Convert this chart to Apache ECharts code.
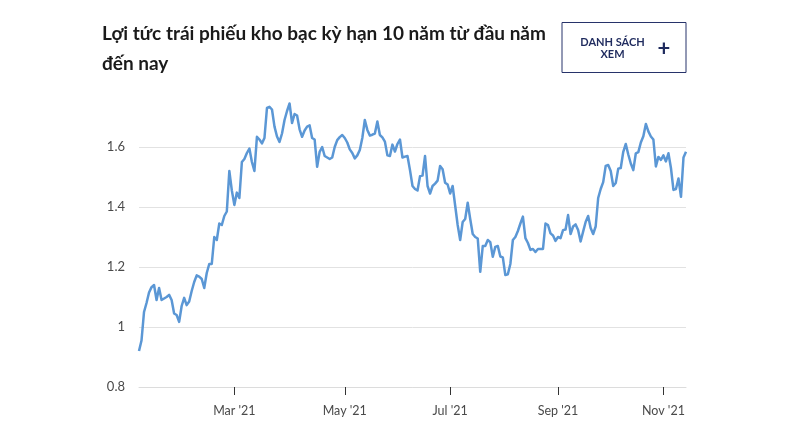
<!DOCTYPE html>
<html>
<head>
<meta charset="utf-8">
<script src="https://cdn.jsdelivr.net/npm/echarts@6/dist/echarts.min.js"></script>
<style>
html,body{margin:0;padding:0;background:#fff;}
#chart{width:800px;height:430px;}
</style>
</head>
<body>
<div id="chart"></div>
<script>
// 10-year Treasury yield, 2021, one value per trading day
const jan = [0.92, 0.955, 1.05, 1.08, 1.115, 1.133, 1.14, 1.09, 1.13, 1.09, 1.095, 1.10, 1.107, 1.09, 1.045, 1.04, 1.017, 1.07, 1.097];
const feb = [1.073, 1.085, 1.12, 1.15, 1.172, 1.168, 1.16, 1.13, 1.18, 1.21, 1.21, 1.30, 1.29, 1.345, 1.34, 1.37, 1.385, 1.52, 1.455];
const mar = [1.407, 1.448, 1.43, 1.55, 1.56, 1.58, 1.595, 1.55, 1.52, 1.634, 1.625, 1.612, 1.63, 1.73, 1.734, 1.725, 1.668, 1.635, 1.617, 1.645, 1.69, 1.72, 1.745];
const apr = [1.68, 1.71, 1.705, 1.659, 1.634, 1.655, 1.668, 1.672, 1.63, 1.625, 1.534, 1.584, 1.60, 1.57, 1.565, 1.56, 1.565, 1.60, 1.623, 1.633, 1.64];
const may = [1.63, 1.615, 1.592, 1.58, 1.562, 1.572, 1.59, 1.63, 1.69, 1.657, 1.638, 1.641, 1.645, 1.685, 1.64, 1.632, 1.618, 1.572, 1.57, 1.608];
const jun = [1.585, 1.61, 1.625, 1.565, 1.568, 1.57, 1.523, 1.47, 1.46, 1.455, 1.503, 1.505, 1.57, 1.47, 1.445, 1.47, 1.478, 1.488, 1.537, 1.526, 1.481, 1.475];
const jul = [1.445, 1.47, 1.405, 1.34, 1.29, 1.35, 1.36, 1.414, 1.36, 1.31, 1.30, 1.295, 1.184, 1.27, 1.27, 1.29, 1.283, 1.234, 1.267, 1.27, 1.235];
const aug = [1.232, 1.173, 1.176, 1.21, 1.29, 1.30, 1.32, 1.345, 1.368, 1.296, 1.28, 1.257, 1.26, 1.25, 1.26, 1.26, 1.26, 1.345, 1.34, 1.312, 1.305, 1.287];
const sep = [1.30, 1.296, 1.323, 1.325, 1.373, 1.31, 1.335, 1.342, 1.323, 1.285, 1.318, 1.35, 1.37, 1.33, 1.31, 1.335, 1.43, 1.46, 1.483, 1.537, 1.54];
const oct = [1.52, 1.47, 1.48, 1.528, 1.53, 1.584, 1.61, 1.575, 1.545, 1.523, 1.579, 1.583, 1.615, 1.636, 1.677, 1.652, 1.635, 1.625, 1.535, 1.567, 1.557];
const nov = [1.572, 1.552, 1.579, 1.53, 1.457, 1.46, 1.495, 1.434, 1.565, 1.584];

const tickMonths = ['2021-03', '2021-05', '2021-07', '2021-09', '2021-11'];
const tickLabels = ["Mar '21", "May '21", "Jul '21", "Sep '21", "Nov '21"];
const yTicks = [0.8, 1, 1.2, 1.4, 1.6];
const holidays = ['2021-01-18', '2021-02-15', '2021-04-02', '2021-05-31', '2021-07-05', '2021-09-06'];

const values = [].concat(jan, feb, mar, apr, may, jun, jul, aug, sep, oct, nov);

// trading-day categories
const dates = [];
let d = new Date(Date.UTC(2021, 0, 4));
while (dates.length < values.length) {
  const s = d.toISOString().slice(0, 10);
  const wd = d.getUTCDay();
  if (wd !== 0 && wd !== 6 && holidays.indexOf(s) < 0) dates.push(s);
  d = new Date(d.getTime() + 86400000);
}
function isTick(idx) {
  const m = dates[idx].slice(0, 7);
  return tickMonths.indexOf(m) >= 0 && (idx === 0 || dates[idx - 1].slice(0, 7) !== m);
}

const chart = echarts.init(document.getElementById('chart'));
chart.setOption({
  animation: false,
  backgroundColor: '#ffffff',
  title: {
    text: 'Lợi tức trái phiếu kho bạc kỳ hạn 10 năm từ đầu năm\nđến nay',
    left: 97, top: 14,
    textStyle: { fontFamily: 'Lato', fontWeight: 'bold', fontSize: 19, lineHeight: 30, color: '#1a1a1a' }
  },
  graphic: [
    { type: 'rect', shape: { x: 562, y: 22.5, width: 124, height: 50 }, style: { fill: 'none', stroke: '#27336a', lineWidth: 1 } },
    { type: 'text', x: 612.5, y: 48, style: { text: 'DANH SÁCH\nXEM', fontFamily: 'Lato', fontWeight: 'bold', fontSize: 11, lineHeight: 12, fill: '#1f2b5e', align: 'center', verticalAlign: 'middle' } },
    { type: 'text', x: 664, y: 49, style: { text: '+', fontFamily: 'Lato', fontWeight: 'bold', fontSize: 22, fill: '#1f2b5e', align: 'center', verticalAlign: 'middle' } }
  ],
  grid: { left: 139, right: 114, top: 87, bottom: 43, containLabel: false },
  xAxis: {
    type: 'category',
    data: dates,
    boundaryGap: false,
    axisLine: { show: true, lineStyle: { color: '#dcdcdc', width: 1 } },
    axisTick: { show: true, interval: (i) => isTick(i), length: 8, lineStyle: { color: '#333333', width: 1 } },
    axisLabel: {
      interval: (i) => isTick(i),
      margin: 17,
      fontFamily: 'Lato', fontSize: 12.5, color: '#4a4a4a',
      formatter: (v) => tickLabels[tickMonths.indexOf(v.slice(0, 7))]
    },
    splitLine: { show: false }
  },
  yAxis: {
    type: 'value',
    min: 0.8, max: 1.8, interval: 0.2,
    axisLine: { show: false },
    axisTick: { show: false },
    axisLabel: {
      margin: 14, fontFamily: 'Lato', fontSize: 13, color: '#4a4a4a',
      formatter: (v) => {
        const t = yTicks.find(y => Math.abs(y - v) < 1e-6);
        return t === undefined ? '' : String(t);
      }
    },
    splitLine: { show: true, lineStyle: { color: ['#e2e2e2', '#e2e2e2', '#e2e2e2', '#e2e2e2', '#e2e2e2', 'rgba(0,0,0,0)'], width: 1 } }
  },
  series: [{
    type: 'line',
    data: values,
    symbol: 'none',
    smooth: false,
    lineStyle: { color: '#5b97d5', width: 2.5, join: 'round' },
    z: 3
  }]
});
</script>
</body>
</html>
